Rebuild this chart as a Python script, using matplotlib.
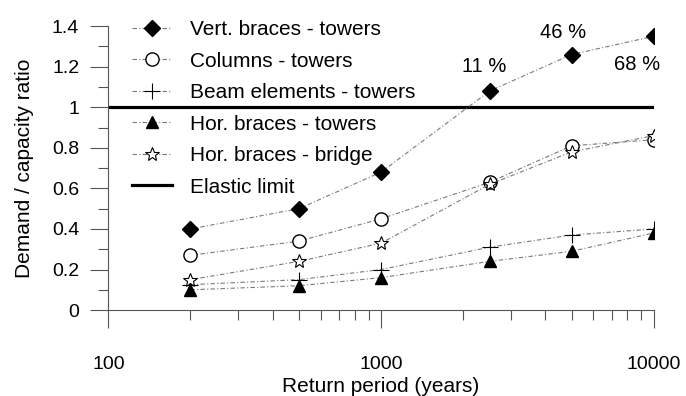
import numpy as np
import matplotlib
matplotlib.use('Agg')
import matplotlib.pyplot as plt
import matplotlib.ticker as mtick

plt.rcParams['font.family'] = ['Liberation Sans', 'DejaVu Sans']

# return periods (years)
periods = [200, 500, 1000, 2500, 5000, 10000]

# demand / capacity ratios per element group
vert_braces_towers = [0.40, 0.50, 0.68, 1.08, 1.26, 1.35]
columns_towers = [0.27, 0.34, 0.45, 0.63, 0.81, 0.84]
beam_elements_towers = [0.125, 0.15, 0.20, 0.31, 0.37, 0.40]
hor_braces_towers = [0.10, 0.12, 0.16, 0.24, 0.29, 0.38]
hor_braces_bridge = [0.15, 0.24, 0.33, 0.62, 0.78, 0.86]
elastic_limit = 1.0

# percentages written next to the vertical brace points
pct_labels = ['11 %', '46 %', '68 %']
pct_periods = [2500, 5000, 10000]

yticks = [0, 0.2, 0.4, 0.6, 0.8, 1.0, 1.2, 1.4]
ytick_labels = ['0', '0.2', '0.4', '0.6', '0.8', '1', '1.2', '1.4']
xticks = [100, 1000, 10000]
xtick_labels = ['100', '1000', '10000']

fig = plt.figure(figsize=(6.86, 3.96), dpi=100)
ax = fig.add_axes([0.158, 0.217, 0.795, 0.717])

line_kw = dict(color='#7a7a7a', lw=0.8, linestyle=(0, (4, 2, 1, 2)))

ax.plot(periods, vert_braces_towers, marker='D', ms=8, mfc='black', mec='black',
        label='Vert. braces - towers', **line_kw)
ax.plot(periods, columns_towers, marker='o', ms=9.5, mfc='white', mec='black', mew=1.0,
        label='Columns - towers', **line_kw)
ax.plot(periods, beam_elements_towers, marker='+', ms=12, mec='black', mew=0.8,
        label='Beam elements - towers', **line_kw)
ax.plot(periods, hor_braces_towers, marker='^', ms=8.5, mfc='black', mec='black',
        label='Hor. braces - towers', **line_kw)
ax.plot(periods, hor_braces_bridge, marker='*', ms=10, mfc='white', mec='black', mew=0.8,
        label='Hor. braces - bridge', **line_kw)
ax.axhline(elastic_limit, color='black', lw=2.3, label='Elastic limit', zorder=1)

# percentage notes (offset in log-decades and ratio units)
vb = dict(zip(periods, vert_braces_towers))
offsets = [(-0.02, 0.12), (-0.03, 0.11), (-0.063, -0.14)]
for txt, p, (dx, dy) in zip(pct_labels, pct_periods, offsets):
    ax.text(p * 10 ** dx, vb[p] + dy, txt, ha='center', va='center', fontsize=14.5)

ax.set_xscale('log')
ax.set_xlim(100, 10000)
ax.set_ylim(0, 1.4)
ax.set_xticks(xticks)
ax.set_xticklabels(xtick_labels)
ax.xaxis.set_minor_locator(mtick.LogLocator(base=10, subs=np.arange(2, 10)))
ax.xaxis.set_minor_formatter(mtick.NullFormatter())
ax.set_yticks(yticks)
ax.set_yticklabels(ytick_labels)
ax.yaxis.set_minor_locator(mtick.MultipleLocator(0.1))

ax.spines['top'].set_visible(False)
ax.spines['right'].set_visible(False)
for s in ('left', 'bottom'):
    ax.spines[s].set_color('#555555')
    ax.spines[s].set_linewidth(0.8)

ax.tick_params(axis='x', which='major', direction='out', length=13, width=0.8,
               color='#555555', pad=20, labelsize=14)
ax.tick_params(axis='x', which='minor', direction='out', length=7, width=0.8, color='#555555')
ax.tick_params(axis='y', which='major', direction='out', length=13, width=0.8,
               color='#555555', pad=8, labelsize=14)
ax.tick_params(axis='y', which='minor', direction='out', length=7, width=0.8, color='#555555')

ax.set_xlabel('Return period (years)', fontsize=15, labelpad=3)
ax.set_ylabel('Demand / capacity ratio', fontsize=15, labelpad=13)

leg = ax.legend(loc='upper left', bbox_to_anchor=(0.028, 1.05), frameon=False,
                fontsize=15, handlelength=1.9, handletextpad=0.9, labelspacing=0.6,
                borderaxespad=0)

fig.savefig('out.png', dpi=100)
